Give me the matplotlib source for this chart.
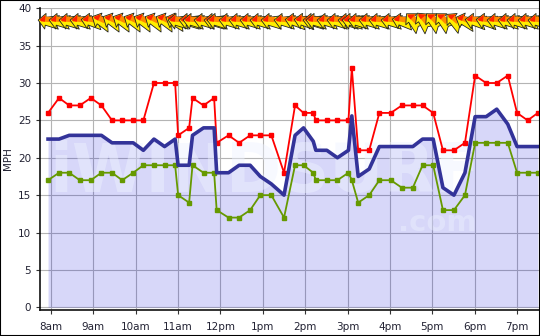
import matplotlib
matplotlib.use('Agg')
import matplotlib.pyplot as plt
import matplotlib.patches as patches
from matplotlib.path import Path
from matplotlib.markers import MarkerStyle
from matplotlib.transforms import Affine2D

# observation times (decimal hours) and wind speeds in mph
times = [7.93, 8.19, 8.43, 8.68, 8.94, 9.19, 9.44, 9.68, 9.94, 10.18,
         10.43, 10.68, 10.93, 11.00, 11.26, 11.34, 11.60, 11.85, 11.91, 12.19,
         12.44, 12.70, 12.94, 13.20, 13.50, 13.76, 13.96, 14.19, 14.25, 14.51,
         14.76, 15.02, 15.10, 15.25, 15.51, 15.75, 16.02, 16.28, 16.54, 16.77,
         17.02, 17.25, 17.51, 17.77, 18.01, 18.27, 18.52, 18.78, 19.00, 19.25,
         19.49]
gust = [26, 28, 27, 27, 28, 27, 25, 25, 25, 25,
        30, 30, 30, 23, 24, 28, 27, 28, 22, 23,
        22, 23, 23, 23, 18, 27, 26, 26, 25, 25,
        25, 25, 32, 21, 21, 26, 26, 27, 27, 27,
        26, 21, 21, 22, 31, 30, 30, 31, 26, 25,
        26]
avg = [22.5, 22.5, 23, 23, 23, 23, 22, 22, 22, 21,
       22.5, 21.5, 22.5, 19, 19, 23, 24, 24, 18, 18,
       19, 19, 17.5, 16.5, 15, 23, 24, 22.2, 21, 21,
       20, 21, 25.6, 17.5, 18.5, 21.5, 21.5, 21.5, 21.5, 22.5,
       22.5, 16, 15, 18, 25.5, 25.5, 26.5, 24.5, 21.5, 21.5,
       21.5]
lull = [17, 18, 18, 17, 17, 18, 18, 17, 18, 19,
        19, 19, 19, 15, 14, 19, 18, 18, 13, 12,
        12, 13, 15, 15, 12, 19, 19, 18, 17, 17,
        17, 18, 17, 14, 15, 17, 17, 16, 16, 19,
        19, 13, 13, 15, 22, 22, 22, 22, 18, 18,
        18]
# tilt of the direction arrows (degrees, 0 = pointing left)
wind_tilt = [-5, -5, -5, -5, -8, -25, -25, -25, -25, -25,
             -25, -25, -20, -5, -5, -5, -5, -5, -5, -5,
             -5, -5, -5, -5, -5, -8, -8, -5, -5, -5,
             -5, -5, -5, -5, -5, -5, -5, -10, -45, -50,
             -45, -45, -40, -20, -8, -8, -5, -5, -5, -5,
             -5]
hour_ticks = list(range(8, 20))
hour_labels = ['8am', '9am', '10am', '11am', '12pm', '1pm', '2pm', '3pm',
               '4pm', '5pm', '6pm', '7pm']
mph_ticks = list(range(0, 41, 5))

W, H = 540, 336
fig = plt.figure(figsize=(W / 100, H / 100), dpi=100)
ax = fig.add_axes([39.5 / W, 26 / H, 500.5 / W, 302.5 / H])

ax.set_xlim(7.7286, 19.541)
ax.set_ylim(-0.36, 40.1)

ax.grid(True, color='#b4b4b4', lw=0.8, zorder=0)
ax.set_axisbelow(True)

ax.fill_between(times, avg, 0, color=(0, 0, 222 / 255), alpha=0.155,
                lw=0, zorder=1)

# faint watermark
ax.text(7.95, 15.4, 'iWINDSURF', fontsize=48, fontweight='bold',
        color='#eef3ff', alpha=0.45, zorder=1.5, ha='left', va='baseline')
ax.text(16.2, 10.2, '.com', fontsize=21, fontweight='bold',
        color='#eef3ff', alpha=0.4, zorder=1.5, ha='left', va='baseline')

ax.plot(times, gust, color='#ff0000', lw=1.3, marker='s', ms=2.6,
        zorder=4)
ax.plot(times, lull, color='#669900', lw=1.3, marker='s', ms=2.6,
        zorder=4)
ax.plot(times, avg, color='#333399', lw=2.6, zorder=5)


def part(pts):
    # leading lone MOVETO keeps all parts at the same marker scale
    verts = [(1.0, 1.0)] + pts + [pts[0]]
    codes = [Path.MOVETO, Path.MOVETO] + [Path.LINETO] * (len(pts) - 1) + \
            [Path.CLOSEPOLY]
    return Path(verts, codes)


outline = part([(-1.0, 0.05), (-0.3, 0.75), (-0.28, 0.38), (1.0, 0.65),
                (0.65, 0.0), (1.0, -0.65), (-0.28, -0.38), (-0.3, -0.75)])
middle = part([(-0.5, 0.45), (0.3, 0.45), (0.3, -0.05), (-0.5, -0.05)])
head = part([(-0.88, 0.08), (-0.36, 0.62), (-0.34, 0.35), (-0.34, -0.05),
             (-0.7, -0.05)])

arrow_y = 38.3
for t, tilt in zip(times, wind_tilt):
    rot = Affine2D().rotate_deg(tilt)
    ax.plot([t], [arrow_y], marker=MarkerStyle(outline, transform=rot),
            ms=15, mfc='#ffee00', mec='#222222', mew=0.6, ls='none',
            zorder=6, clip_on=False)
    ax.plot([t], [arrow_y], marker=MarkerStyle(middle, transform=rot),
            ms=15, mfc='#ff8800', mec='none', ls='none', zorder=6,
            clip_on=False)
    ax.plot([t], [arrow_y], marker=MarkerStyle(head, transform=rot),
            ms=15, mfc='#ff2200', mec='none', ls='none', zorder=6,
            clip_on=False)

ax.set_xticks(hour_ticks)
ax.set_xticklabels(hour_labels)
ax.set_yticks(mph_ticks)
ax.tick_params(axis='both', labelsize=7.5, labelcolor='#222233',
               color='#333333', length=3, width=0.8)
ax.tick_params(axis='x', pad=6)
ax.tick_params(axis='y', pad=3)

for side in ['top', 'right']:
    ax.spines[side].set_visible(False)
for side in ['left', 'bottom']:
    ax.spines[side].set_color('#111111')
    ax.spines[side].set_linewidth(1.2)

ax.set_ylabel('MPH', fontsize=7.5, color='#222233')
ax.yaxis.set_label_coords(-0.052, 0.5)

# black frame round the whole picture
fig.patches.append(patches.Rectangle((0, 0), 1, 1, transform=fig.transFigure,
                                     fill=False, edgecolor='black', lw=1.5))

fig.savefig('out.png', dpi=100)
